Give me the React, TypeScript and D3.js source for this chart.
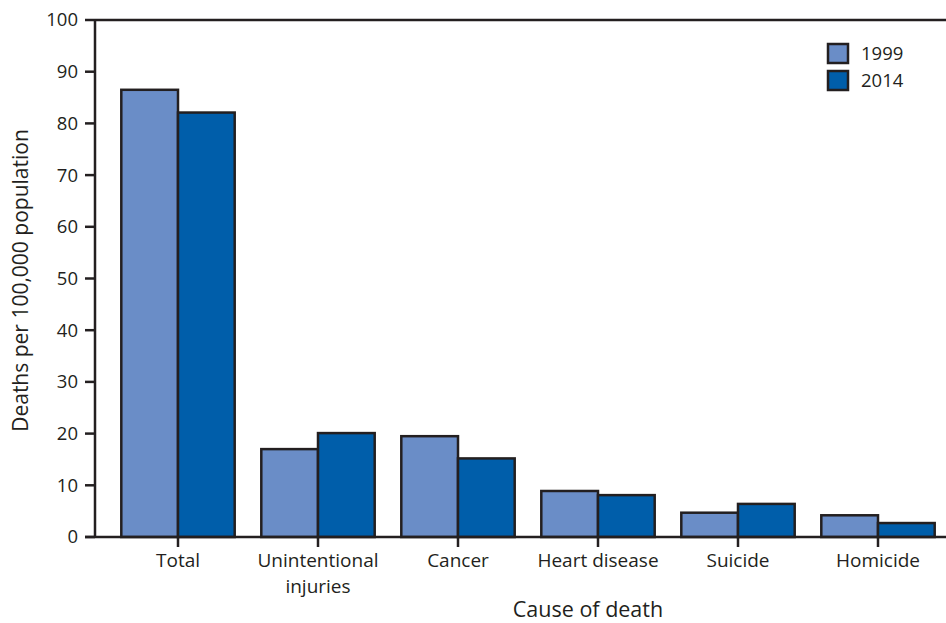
import * as d3 from 'd3';

const causes = ['Total', 'Unintentional injuries', 'Cancer', 'Heart disease', 'Suicide', 'Homicide'];
const years = ['1999', '2014'];
const values1999 = [86.5, 17.0, 19.5, 8.9, 4.7, 4.2];
const values2014 = [82.1, 20.1, 15.2, 8.1, 6.4, 2.7];
const yTicks = [0, 10, 20, 30, 40, 50, 60, 70, 80, 90, 100];

const width = 946;
const height = 623;
const font = '"Open Sans", sans-serif';
const ink = '#231f20';

const App = () => {
  // scales
  const x = d3.scaleBand().domain(causes).range([108, 948]).paddingInner(0.19).paddingOuter(0.095);
  const sub = d3.scaleBand().domain(years).range([0, x.bandwidth()]);
  const y = d3.scaleLinear().domain([0, 100]).range([537, 20]);
  const color = d3.scaleOrdinal<string>().domain(years).range(['#6a8dc7', '#005eaa']);

  const series = [
    { year: '1999', values: values1999 },
    { year: '2014', values: values2014 },
  ];

  return (
    <svg width={width} height={height} style={{ position: 'absolute', left: 0, top: 0, fontFamily: font }}>
      {/* bars */}
      {series.map((s) => (
        <g key={s.year}>
          {s.values.map((v, i) => (
            <rect
              key={causes[i]}
              x={(x(causes[i]) ?? 0) + (sub(s.year) ?? 0)}
              y={y(v)}
              width={sub.bandwidth()}
              height={y(0) - y(v)}
              fill={color(s.year)}
              stroke={ink}
              strokeWidth={2.5}
            />
          ))}
        </g>
      ))}

      {/* frame: top line, y axis, x axis */}
      <line x1={95} x2={946} y1={y(100)} y2={y(100)} stroke={ink} strokeWidth={2.5} />
      <line x1={95} x2={95} y1={y(100)} y2={y(0)} stroke={ink} strokeWidth={2.5} />
      <line x1={85} x2={946} y1={y(0)} y2={y(0)} stroke={ink} strokeWidth={2.5} />

      {/* y ticks */}
      {yTicks.map((t) => (
        <g key={t}>
          <line x1={85} x2={95} y1={y(t)} y2={y(t)} stroke={ink} strokeWidth={2.5} />
          <text x={78} y={y(t)} dy="0.35em" textAnchor="end" fontSize={18.5} fill={ink}>
            {t}
          </text>
        </g>
      ))}

      {/* x ticks */}
      {causes.map((c) => {
        const cx = (x(c) ?? 0) + x.bandwidth() / 2;
        const words = c === 'Unintentional injuries' ? ['Unintentional', 'injuries'] : [c];
        return (
          <g key={c}>
            <line x1={cx} x2={cx} y1={y(0)} y2={y(0) + 10} stroke={ink} strokeWidth={2.5} />
            {words.map((w, k) => (
              <text key={w} x={cx} y={567 + k * 26} textAnchor="middle" fontSize={19} fill={ink}>
                {w}
              </text>
            ))}
          </g>
        );
      })}

      {/* axis titles */}
      <text x={588} y={617} textAnchor="middle" fontSize={21.5} fill={ink}>
        Cause of death
      </text>
      <text
        transform={`translate(28,${(y(0) + y(100)) / 2 + 2}) rotate(-90)`}
        textAnchor="middle"
        fontSize={21}
        fill={ink}
      >
        Deaths per 100,000 population
      </text>

      {/* legend */}
      {years.map((yr, i) => (
        <g key={yr} transform={`translate(828,${44 + i * 27})`}>
          <rect width={20} height={19} fill={color(yr)} stroke={ink} strokeWidth={2.5} />
          <text x={33} y={16} fontSize={18.5} fill={ink}>
            {yr}
          </text>
        </g>
      ))}
    </svg>
  );
};

export default App;
